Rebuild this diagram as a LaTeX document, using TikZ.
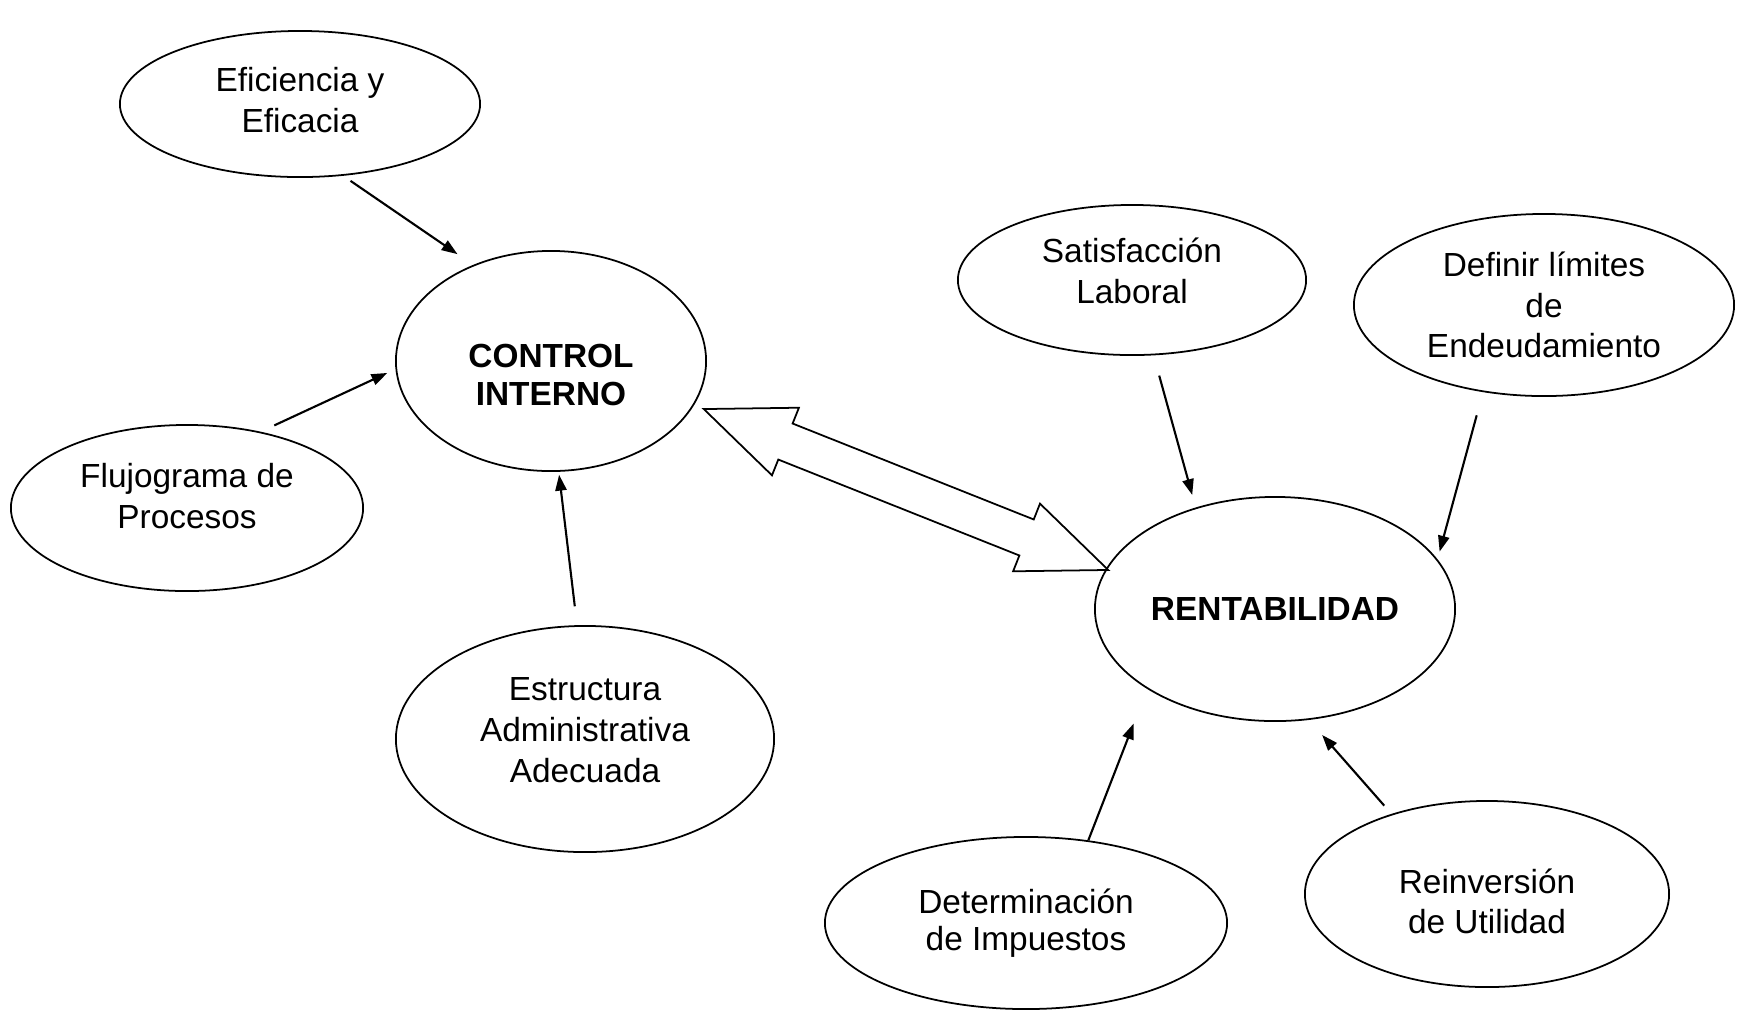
\documentclass[tikz,border=0pt]{standalone}
\usepackage{fontspec}
\setmainfont{Liberation Sans}
\usetikzlibrary{shapes.geometric, shapes.arrows, arrows.meta}
\tikzset{
    idea/.style={ellipse, draw=black, line width=0.5pt, align=center,
                 inner sep=0pt, font=\fontsize{9.5}{11.6}\selectfont},
    core/.style={idea, font=\fontsize{9.5}{10.8}\selectfont\bfseries},
    arrow/.style={-{Triangle[length=4.5pt, width=3.2pt]}, line width=0.6pt, draw=black},
    link/.style={double arrow, draw=black, line width=0.5pt, fill=white,
                 inner xsep=0pt, inner ysep=0.185cm, minimum height=4.35cm,
                 double arrow head extend=0.17cm, double arrow tip angle=45},
}

\begin{document}
\begin{tikzpicture}[x=0.01cm, y=-0.01cm]
    \useasboundingbox (0,0) rectangle (1739,1011);
    % centre nodes
    \node[core, minimum width=3.1cm, minimum height=2.2cm, text height=0.9cm] (ci) at (551,361) {CONTROL\\INTERNO};
    \node[core, minimum width=3.6cm, minimum height=2.24cm] (rent) at (1275,609) {RENTABILIDAD};
    % factors of control interno
    \node[idea, minimum width=3.6cm, minimum height=1.46cm, text depth=0.09cm] (efi) at (300,104) {Eficiencia y\\Eficacia};
    \node[idea, minimum width=3.52cm, minimum height=1.66cm, text depth=0.24cm] (flu) at (187,508) {Flujograma de\\Procesos};
    \node[idea, minimum width=3.78cm, minimum height=2.26cm, text depth=0.18cm] (est) at (585,739) {Estructura\\Administrativa\\Adecuada};
    % factors of rentabilidad
    \node[idea, minimum width=3.48cm, minimum height=1.5cm, text depth=0.18cm] (sat) at (1132,280) {Satisfacción\\Laboral};
    \node[idea, minimum width=3.8cm, minimum height=1.82cm] (def) at (1544,305) {Definir límites\\de\\Endeudamiento};
    \node[idea, minimum width=4.02cm, minimum height=1.72cm, font=\fontsize{9.5}{10.4}\selectfont] (det) at (1026,923) {Determinación\\de Impuestos};
    \node[idea, minimum width=3.64cm, minimum height=1.86cm, text height=0.8cm] (rei) at (1487,894) {Reinversión\\de Utilidad};
    % two-way link
    \node[link, rotate=-21.7] (lnk) at (906,489.5) {};
    \draw[arrow, shorten <=0.09cm, shorten >=0.19cm] (efi.-59.5) -- (ci.129.5);
    \draw[arrow, shorten <=0.15cm, shorten >=0.09cm] (flu.46.4) -- (ci.183.4);
    \draw[arrow, shorten <=0.19cm, shorten >=0.03cm] (est.94.4) -- (ci.-86.6);
    \draw[arrow, shorten <=0.21cm, shorten >=0.13cm] (sat.-74) -- (rent.128.4);
    \draw[arrow, shorten <=0.24cm, shorten >=0.08cm] (def.235.1) -- (rent.17.9);
    \draw[arrow, shorten >=0.37cm] (det.53.4) -- (rent.212.3);
    \draw[arrow, shorten <=0.11cm, shorten >=0.2cm] (rei.140.9) -- (rent.-73.7);
\end{tikzpicture}
\end{document}
